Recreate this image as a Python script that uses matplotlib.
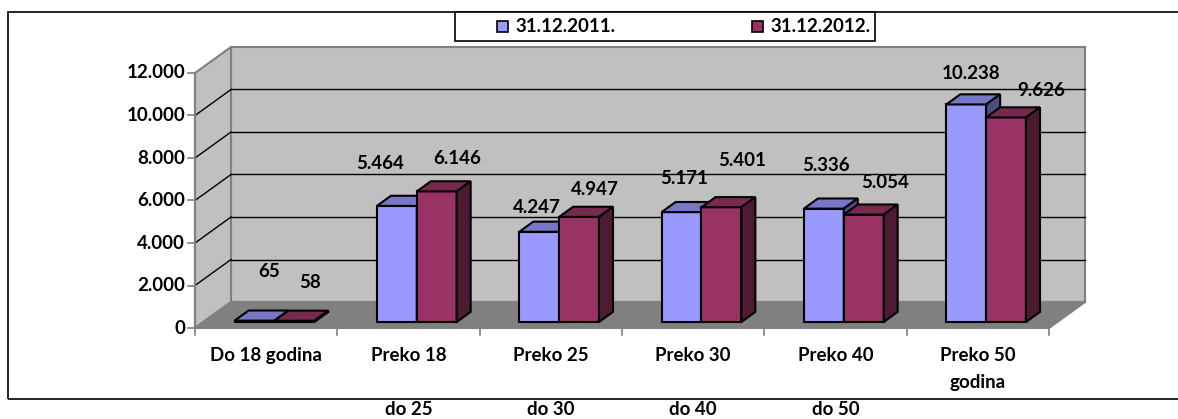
import matplotlib.pyplot as plt
from matplotlib.patches import Polygon, Rectangle

plt.rcParams['font.family'] = ['Lato', 'DejaVu Sans']
plt.rcParams['font.weight'] = 'bold'

# data
categories = ["Do 18 godina", "Preko 18\n\ndo 25", "Preko 25\n\ndo 30",
              "Preko 30\n\ndo 40", "Preko 40\n\ndo 50", "Preko 50\ngodina"]
series = ["31.12.2011.", "31.12.2012."]
values_2011 = [65, 5464, 4247, 5171, 5336, 10238]
values_2012 = [58, 6146, 4947, 5401, 5054, 9626]
yticks = [0, 2000, 4000, 6000, 8000, 10000, 12000]

def fmt(v):
    return f"{v:,}".replace(",", ".")

# styling
front = ['#9999FF', '#993366']
top = ['#7777C6', '#772950']
side = ['#4D4D80', '#4D1A33']
fs = 13.5
# label offsets in pixels (excel 3d placement)
label_off = [
    [(15, 49), (-17, 42), (-2, 24), (3, 34), (2, 43), (5, 31)],
    [(16, 38), (20, 33), (16, 27), (21, 47), (21, 32), (35, 27)],
]

W, H = 1178, 419
fig = plt.figure(figsize=(W / 100, H / 100), dpi=100)
ax = fig.add_axes([195 / W, 91 / H, 854 / W, 255 / H])
n = len(categories)
ymax = yticks[-1]
ax.set_xlim(0, n)
ax.set_ylim(0, ymax)
ax.axis('off')

px_x = n / 854       # data units per pixel
px_y = ymax / 255
DX, DY = 36 * px_x, 26 * px_y   # full depth of the box
grey = '#808080'

# walls and floor
ax.add_patch(Polygon([(DX, DY), (n + DX, DY), (n + DX, ymax + DY), (DX, ymax + DY)],
                     closed=True, fc='#C0C0C0', ec=grey, lw=1.5, clip_on=False, zorder=1))
ax.add_patch(Polygon([(0, 0), (DX, DY), (DX, ymax + DY), (0, ymax)],
                     closed=True, fc='#C0C0C0', ec=grey, lw=1.5, clip_on=False, zorder=1))
ax.add_patch(Polygon([(0, 0), (n, 0), (n + DX, DY), (DX, DY)],
                     closed=True, fc='#808080', ec=grey, lw=1.5, clip_on=False, zorder=1.2))
for v in yticks[1:-1]:
    ax.plot([DX, n + DX], [v + DY, v + DY], color='black', lw=1, clip_on=False, zorder=1.1)
    ax.plot([0, DX], [v, v + DY], color='black', lw=1, clip_on=False, zorder=1.1)

# y axis ticks and labels
for v in yticks:
    ax.plot([-7 * px_x, 0], [v, v], color=grey, lw=1.2, clip_on=False, zorder=1.3)
    ax.annotate(fmt(v), (0, v), xytext=(-10, 0), textcoords='offset pixels',
                ha='right', va='center', fontsize=fs, annotation_clip=False)
ax.plot([0, 0], [0, ymax], color=grey, lw=1.5, clip_on=False, zorder=1.3)

# x axis ticks and labels
for i in range(n + 1):
    ax.plot([i, i], [0, -7 * px_y], color=grey, lw=1.2, clip_on=False, zorder=1.3)
for i, c in enumerate(categories):
    ax.annotate(c, (i + 0.5, 0), xytext=(0, -19), textcoords='offset pixels',
                ha='center', va='top', fontsize=fs, linespacing=1.7,
                annotation_clip=False)

# bars
d0, d1 = 0.23, 0.62
w = 0.28
start = 0.22
for s, vals in enumerate([values_2011, values_2012]):
    xs = [i + start + s * w + d0 * DX for i in range(n)]
    base = d0 * DY
    ax.bar(xs, vals, width=w, bottom=base, align='edge', color=front[s],
           edgecolor='black', lw=1.5, zorder=3 + s, clip_on=False)
    ddx, ddy = (d1 - d0) * DX, (d1 - d0) * DY
    for i, v in enumerate(vals):
        x0 = xs[i]
        yt = base + v
        ax.add_patch(Polygon([(x0, yt), (x0 + w, yt), (x0 + w + ddx, yt + ddy), (x0 + ddx, yt + ddy)],
                             closed=True, fc=top[s], ec='black', lw=1.5, clip_on=False, zorder=3.1 + s))
        ax.add_patch(Polygon([(x0 + w, base), (x0 + w, yt), (x0 + w + ddx, yt + ddy), (x0 + w + ddx, base + ddy)],
                             closed=True, fc=side[s], ec='black', lw=1.5, clip_on=False, zorder=3.1 + s))
        ox, oy = label_off[s][i]
        ax.annotate(fmt(v), (x0 + w / 2, yt), xytext=(ox, oy), textcoords='offset pixels',
                    ha='center', va='center', fontsize=fs, zorder=6, annotation_clip=False)

# chart border
fig.add_artist(Rectangle((8 / W, 1 - 399 / H), 1200 / W, 387 / H, transform=fig.transFigure,
                         fill=False, ec='black', lw=1.2))

# legend
fig.add_artist(Rectangle((455 / W, 1 - 41 / H), 420 / W, 29 / H, transform=fig.transFigure,
                         fc='white', ec='black', lw=1.2))
for s, (name, mx) in enumerate(zip(series, [497, 752])):
    fig.add_artist(Rectangle((mx / W, 1 - 32 / H), 11 / W, 11 / H, transform=fig.transFigure,
                             fc=front[s], ec='black', lw=1.2))
    fig.text((mx + 18) / W, 1 - 26.5 / H, name, ha='left', va='center', fontsize=fs)

fig.savefig('out.png', dpi=100)
